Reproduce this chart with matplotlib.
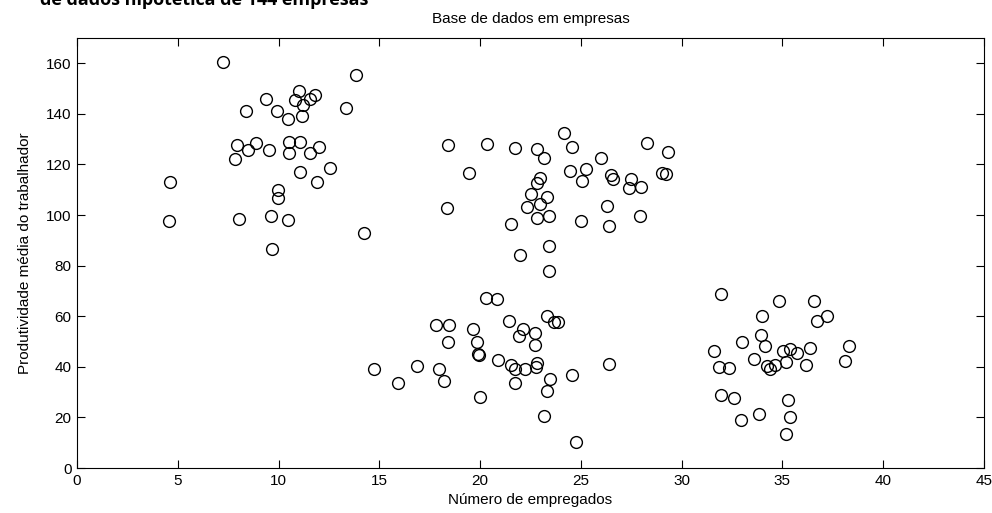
import matplotlib
matplotlib.use("Agg")
import matplotlib.pyplot as plt

# Cluster A (small firms, high productivity)
xa = [7.23, 13.83, 11.01, 11.81, 11.54, 10.80, 9.40, 11.23, 13.33, 8.36, 9.90, 10.46,
      11.18, 7.93, 8.86, 8.49, 9.54, 7.86, 10.51, 11.08, 10.51, 11.56, 11.99, 12.57,
      11.06, 11.92, 4.63, 9.97, 9.97, 4.56, 8.06, 9.62, 10.46, 14.26, 9.68]
ya = [160.4, 155.3, 149.0, 147.3, 145.7, 145.4, 145.9, 143.4, 142.4, 141.3, 141.3, 137.9,
      139.0, 127.6, 128.6, 125.6, 125.7, 122.0, 128.7, 128.7, 124.4, 124.5, 126.9, 118.6,
      117.2, 113.1, 113.2, 110.0, 106.7, 97.6, 98.6, 99.8, 98.1, 93.1, 86.5]

# Cluster B
xb = [18.42, 20.35, 21.71, 22.84, 23.17, 24.16, 24.58, 24.44, 19.45, 22.95, 22.84, 22.54,
      23.32, 22.34, 22.95, 22.80, 23.40, 18.36, 21.54, 23.40, 21.96, 23.40,
      28.29, 29.34, 25.99, 25.27, 25.06, 26.47, 26.57, 27.51, 27.38, 27.96, 29.04, 29.22,
      26.32, 27.94, 24.99, 26.40]
yb = [127.6, 128.2, 126.6, 126.0, 122.4, 132.5, 127.0, 117.5, 116.5, 114.8, 112.8, 108.5,
      107.2, 103.3, 104.3, 98.8, 99.7, 102.7, 96.4, 87.9, 84.2, 78.0,
      128.3, 124.9, 122.7, 118.1, 113.5, 115.9, 114.2, 114.2, 110.6, 111.1, 116.8, 116.1,
      103.6, 99.7, 97.7, 95.6]

# Cluster C
xc = [20.30, 20.83, 17.81, 18.47, 19.64, 18.39, 19.87, 19.92, 19.93, 20.88, 14.74, 15.94,
      16.85, 17.98, 18.19, 20.00,
      21.41, 23.32, 23.67, 23.87, 22.12, 22.74, 21.91, 22.74, 21.54, 21.71, 22.25, 22.82,
      22.75, 26.38, 24.56, 23.45, 21.74, 23.32, 23.15, 24.78]
yc = [67.3, 66.9, 56.4, 56.7, 55.0, 50.0, 50.0, 45.2, 44.5, 42.6, 39.0, 33.6,
      40.2, 39.0, 34.4, 28.1,
      58.1, 60.0, 57.9, 57.9, 54.8, 53.5, 52.0, 48.5, 40.9, 39.0, 39.0, 41.6,
      39.9, 41.0, 36.7, 35.1, 33.6, 30.3, 20.6, 10.4]

# Cluster D
xd = [31.96, 34.84, 36.58, 33.99, 37.21, 36.72, 33.93, 33.00, 34.13, 31.61, 35.02, 35.39,
      35.72, 36.38, 38.32, 33.61, 35.17, 38.12, 31.86, 32.37, 34.23, 34.36, 34.64, 36.17,
      31.94, 32.60, 35.26, 33.85, 35.39, 32.94, 35.17]
yd = [68.8, 66.2, 66.2, 60.0, 60.0, 58.3, 52.7, 49.7, 48.4, 46.1, 46.2, 47.2,
      45.4, 47.6, 48.1, 43.0, 41.9, 42.2, 39.9, 39.4, 40.2, 39.3, 40.6, 40.6,
      28.8, 27.7, 26.8, 21.2, 20.2, 18.9, 13.3]

x = xa + xb + xc + xd
y = ya + yb + yc + yd

xticks = [0, 5, 10, 15, 20, 25, 30, 35, 40, 45]
yticks = [0, 20, 40, 60, 80, 100, 120, 140, 160]

plt.rcParams['font.family'] = ['Liberation Sans', 'DejaVu Sans']

fig = plt.figure(figsize=(9.92, 5.13), dpi=100)
ax = fig.add_axes([77/992, 1 - 468/513, (984 - 77)/992, (468 - 38)/513])

ax.plot(x, y, linestyle='none', marker='o', markersize=8.5, markerfacecolor='none',
        markeredgecolor='black', markeredgewidth=1.0)

ax.set_xlim(0, 45)
ax.set_ylim(0, 170)
ax.set_xticks(xticks)
ax.set_yticks(yticks)
ax.tick_params(direction='in', length=6, width=0.8, top=True, right=True,
               labelsize=11, colors='black', pad=4)
for lbl in ax.get_xticklabels() + ax.get_yticklabels():
    lbl.set_family(['Liberation Sans Narrow', 'Liberation Sans'])
for s in ax.spines.values():
    s.set_linewidth(0.8)

ax.set_title('Base de dados em empresas', fontsize=11, pad=11)
ax.set_xlabel('Número de empregados', fontsize=11, labelpad=4)
ax.set_ylabel('Produtividade média do trabalhador', fontsize=11, labelpad=10)

fig.text(40/992, 1 - 5/513, 'de dados hipotética de 144 empresas', fontsize=13,
         fontweight='bold', family=['Open Sans', 'DejaVu Sans'], va='baseline', ha='left')

fig.savefig('out.png', dpi=100)
